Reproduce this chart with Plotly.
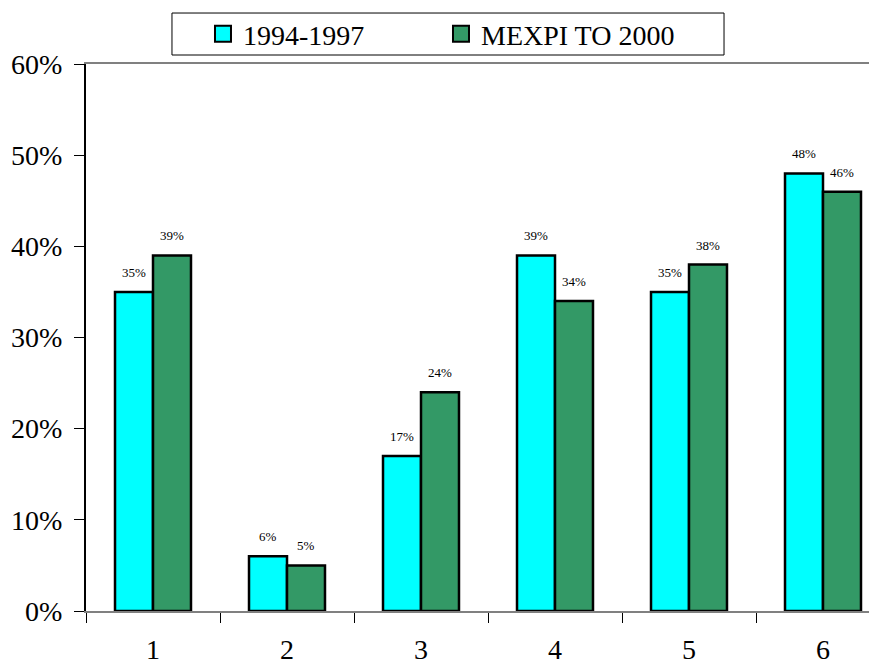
import plotly.graph_objects as go

categories = ["1", "2", "3", "4", "5", "6"]
series_names = ["1994-1997", "MEXPI TO 2000"]
values_1994_1997 = [35, 6, 17, 39, 35, 48]
values_mexpi_2000 = [39, 5, 24, 34, 38, 46]
colors = ["#00FFFF", "#339966"]

FONT = "Liberation Serif"

fig = go.Figure()
all_values = [values_1994_1997, values_mexpi_2000]
for name, vals, col in zip(series_names, all_values, colors):
    fig.add_trace(go.Bar(
        x=categories, y=[v / 100 for v in vals], name=name,
        marker=dict(color=col, line=dict(color="black", width=2.5)),
        showlegend=False,
    ))
    # legend-only proxy for larger square symbols
    fig.add_trace(go.Scatter(
        x=[None], y=[None], mode="markers", name=name,
        marker=dict(symbol="square", size=17, color=col,
                    line=dict(color="black", width=2)),
    ))

# data labels (category index used for x)
for k, vals in enumerate(all_values):
    shift = -19 if k == 0 else 19
    for i, v in enumerate(vals):
        fig.add_annotation(
            x=i, y=v / 100, xref="x", yref="y", text=f"{v}%",
            showarrow=False, xshift=shift, yshift=10, yanchor="bottom",
            font=dict(family=FONT, size=13, color="black"),
        )

# legend frame
fig.add_shape(
    type="rect", xref="paper", yref="paper",
    x0=0.1087, x1=0.8066, y0=1.01645, y1=1.0932,
    line=dict(color="black", width=1), fillcolor="white", layer="below",
)

fig.update_layout(
    width=869, height=658,
    margin=dict(l=78, r=0, t=56, b=55, autoexpand=False),
    paper_bgcolor="white", plot_bgcolor="white",
    barmode="group", bargap=0.433, bargroupgap=0,
    font=dict(family=FONT, size=28, color="black"),
    legend=dict(
        orientation="h", x=0.1479, y=1.1005, xanchor="left", yanchor="top",
        borderwidth=0, bgcolor="rgba(0,0,0,0)",
        font=dict(family=FONT, size=28, color="black"),
        entrywidth=193, entrywidthmode="pixels",
    ),
)

fig.update_xaxes(
    type="category", range=[-0.5, 5.403], automargin=False,
    showline=True, linecolor="#808080", linewidth=2, mirror=True,
    ticks="outside", ticklen=10, tickcolor="black", tickwidth=1,
    tickson="boundaries", showgrid=False, zeroline=False,
    tickfont=dict(family=FONT, size=28, color="black"),
    ticklabelstandoff=12,
)
fig.update_yaxes(
    range=[0, 0.6], dtick=0.1, tickformat=".0%", automargin=False,
    showline=True, linecolor="black", linewidth=2,
    ticks="outside", ticklen=10, tickcolor="black", tickwidth=1,
    showgrid=False, zeroline=False,
    tickfont=dict(family=FONT, size=28, color="black"),
    ticklabelstandoff=6,
)

fig.write_html("out.html")
